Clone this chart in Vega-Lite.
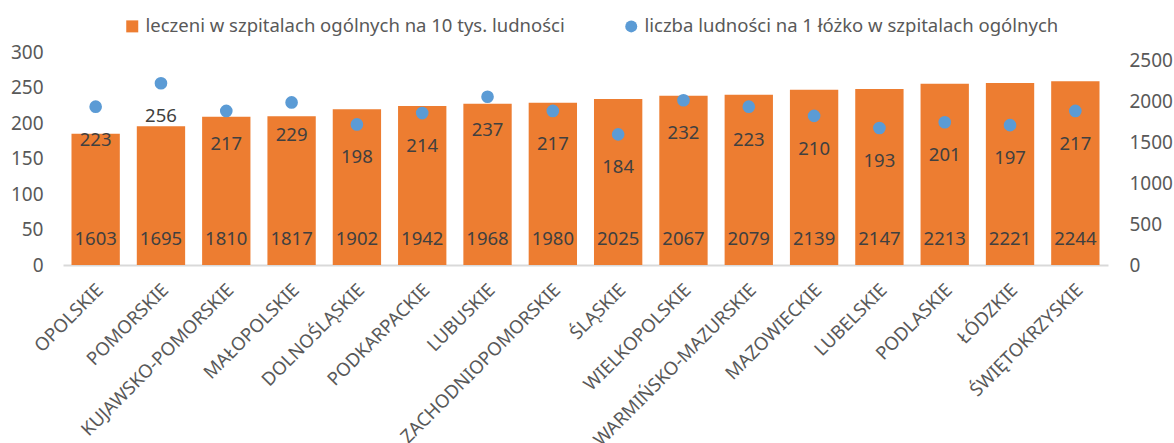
{
  "$schema": "https://vega.github.io/schema/vega-lite/v6.json",
  "width": 1045,
  "height": 213,
  "autosize": {"type": "none"},
  "padding": {"left": 63, "top": 52, "right": 66, "bottom": 178},
  "background": "white",
  "config": {"view": {"stroke": null}, "font": "Noto Sans"},
  "data": {
    "values": [
      {"region": "OPOLSKIE", "leczeni": 1603, "ludnosc_na_lozko": 223},
      {"region": "POMORSKIE", "leczeni": 1695, "ludnosc_na_lozko": 256},
      {"region": "KUJAWSKO-POMORSKIE", "leczeni": 1810, "ludnosc_na_lozko": 217},
      {"region": "MAŁOPOLSKIE", "leczeni": 1817, "ludnosc_na_lozko": 229},
      {"region": "DOLNOŚLĄSKIE", "leczeni": 1902, "ludnosc_na_lozko": 198},
      {"region": "PODKARPACKIE", "leczeni": 1942, "ludnosc_na_lozko": 214},
      {"region": "LUBUSKIE", "leczeni": 1968, "ludnosc_na_lozko": 237},
      {"region": "ZACHODNIOPOMORSKIE", "leczeni": 1980, "ludnosc_na_lozko": 217},
      {"region": "ŚLĄSKIE", "leczeni": 2025, "ludnosc_na_lozko": 184},
      {"region": "WIELKOPOLSKIE", "leczeni": 2067, "ludnosc_na_lozko": 232},
      {"region": "WARMIŃSKO-MAZURSKIE", "leczeni": 2079, "ludnosc_na_lozko": 223},
      {"region": "MAZOWIECKIE", "leczeni": 2139, "ludnosc_na_lozko": 210},
      {"region": "LUBELSKIE", "leczeni": 2147, "ludnosc_na_lozko": 193},
      {"region": "PODLASKIE", "leczeni": 2213, "ludnosc_na_lozko": 201},
      {"region": "ŁÓDZKIE", "leczeni": 2221, "ludnosc_na_lozko": 197},
      {"region": "ŚWIĘTOKRZYSKIE", "leczeni": 2244, "ludnosc_na_lozko": 217}
    ]
  },
  "encoding": {
    "x": {
      "field": "region",
      "type": "nominal",
      "sort": null,
      "scale": {"paddingInner": 0.26, "paddingOuter": 0.13},
      "axis": {
        "title": null,
        "labelAngle": -45,
        "labelFontSize": 18.5,
        "labelColor": "#595959",
        "domainColor": "#d9d9d9",
        "domainWidth": 2,
        "ticks": false,
        "labelPadding": 15,
        "labelOffset": -2,
        "labelLimit": 400,
        "labelOverlap": false
      }
    }
  },
  "layer": [
    {
      "layer": [
        {
          "mark": {"type": "bar"},
          "encoding": {
            "y": {
              "field": "leczeni",
              "type": "quantitative",
              "scale": {"domain": [0, 2500]},
              "axis": {
                "orient": "right",
                "title": null,
                "values": [0, 500, 1000, 1500, 2000, 2500],
                "format": "d",
                "labelOverlap": false,
                "grid": false,
                "ticks": false,
                "domain": false,
                "labelFontSize": 19,
                "labelColor": "#595959",
                "labelPadding": 21
              }
            },
            "color": {
              "datum": "leczeni w szpitalach ogólnych na 10 tys. ludności",
              "type": "nominal",
              "scale": {
                "domain": ["leczeni w szpitalach ogólnych na 10 tys. ludności", "liczba ludności na 1 łóżko w szpitalach ogólnych"],
                "range": ["#ED7D31", "#5B9BD5"]
              },
              "legend": {
                "orient": "none",
                "legendX": 60,
                "legendY": -35,
                "direction": "horizontal",
                "title": null,
                "labelFontSize": 18.5,
                "labelColor": "#595959",
                "labelLimit": 600,
                "symbolSize": 144,
                "columnPadding": 57,
                "symbolStrokeWidth": 0,
                "encode": {
                  "symbols": {
                    "update": {
                      "shape": {"signal": "datum.value === 'leczeni w szpitalach ogólnych na 10 tys. ludności' ? 'square' : 'circle'"},
                      "fillOpacity": {"value": 1}
                    }
                  }
                }
              }
            }
          }
        },
        {
          "mark": {"type": "text", "dy": -26, "fontSize": 18.5, "color": "#404040"},
          "encoding": {
            "y": {"datum": 0, "type": "quantitative"},
            "text": {"field": "leczeni", "type": "quantitative"}
          }
        }
      ]
    },
    {
      "encoding": {
        "y": {
          "field": "ludnosc_na_lozko",
          "type": "quantitative",
          "scale": {"domain": [0, 300]},
          "axis": {
            "orient": "left",
            "title": null,
            "values": [0, 50, 100, 150, 200, 250, 300],
            "labelOverlap": false,
            "grid": false,
            "ticks": false,
            "domain": false,
            "labelFontSize": 19,
            "labelColor": "#595959",
            "labelPadding": 20
          }
        }
      },
      "layer": [
        {
          "mark": {"type": "point", "filled": true, "size": 160, "opacity": 1},
          "encoding": {
            "color": {"datum": "liczba ludności na 1 łóżko w szpitalach ogólnych", "type": "nominal"}
          }
        },
        {
          "mark": {"type": "text", "dy": 33, "fontSize": 18.5, "color": "#404040"},
          "encoding": {
            "text": {"field": "ludnosc_na_lozko", "type": "quantitative"}
          }
        }
      ]
    }
  ],
  "resolve": {"scale": {"y": "independent"}}
}
